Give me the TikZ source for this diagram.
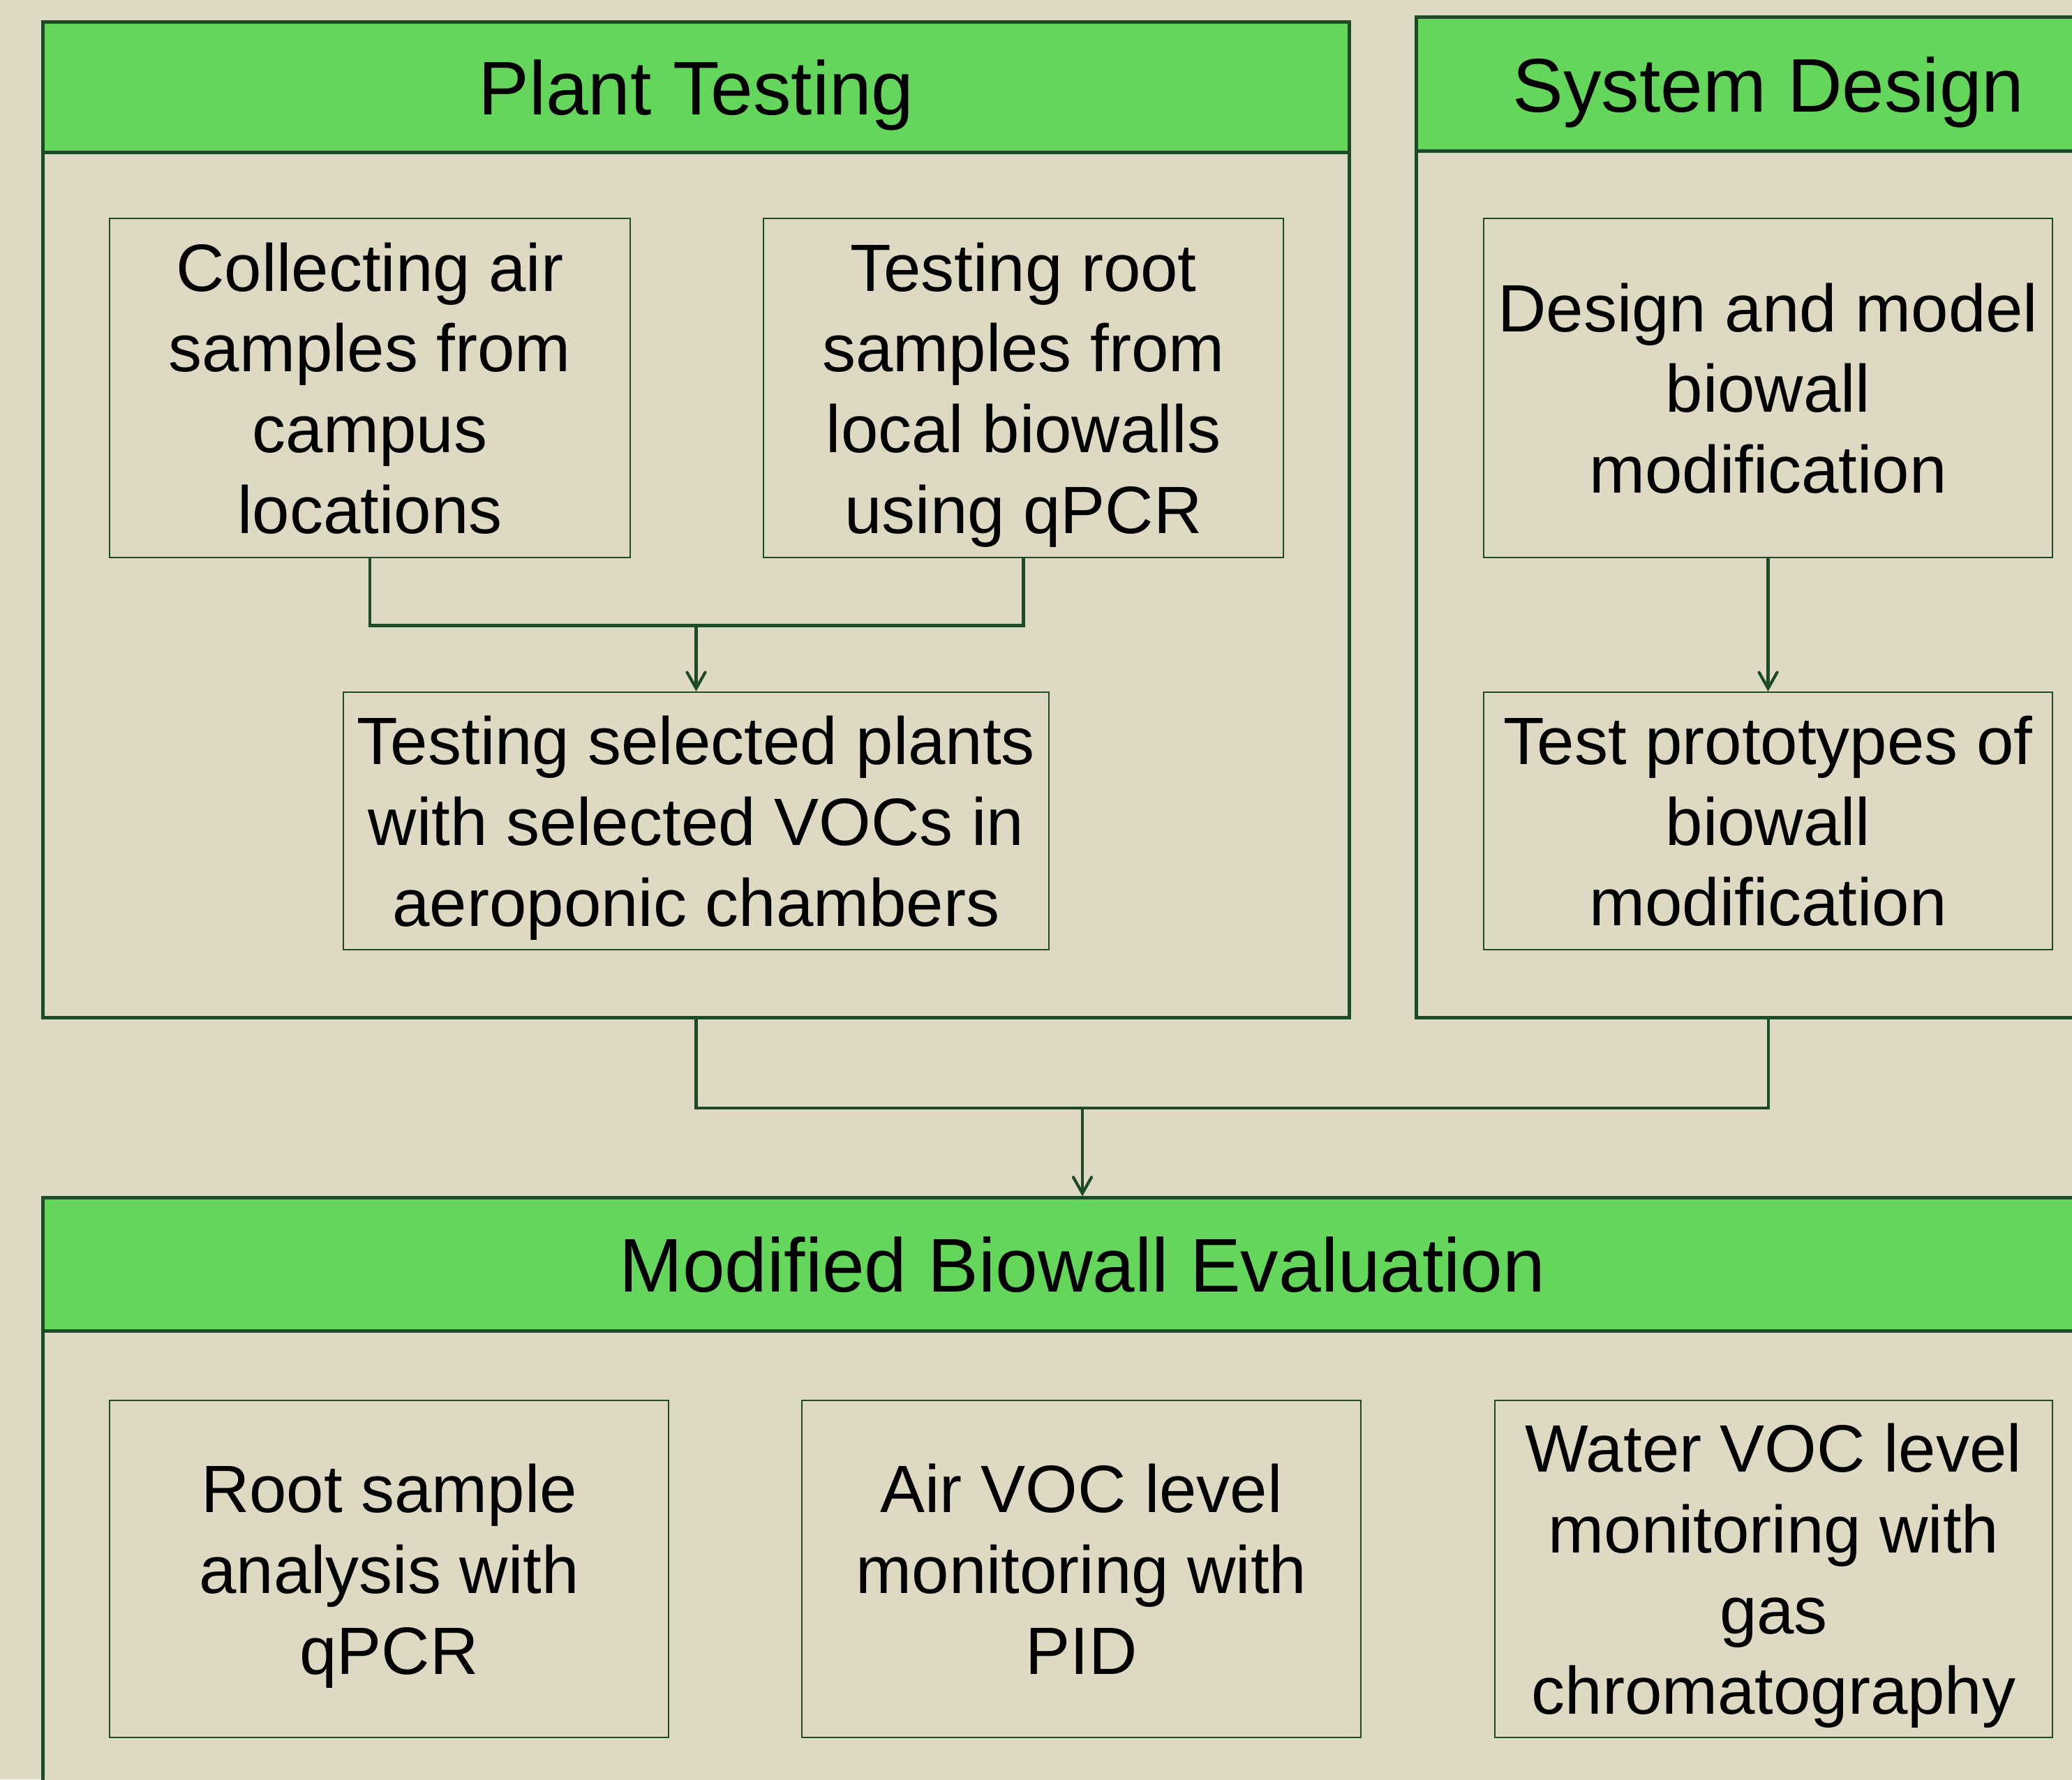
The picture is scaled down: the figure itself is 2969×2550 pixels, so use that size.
\documentclass[tikz,border=0pt]{standalone}
\usepackage{fontspec}
\setmainfont{Liberation Sans}
\usepackage{tikz}
\usetikzlibrary{arrows.meta}

\definecolor{paper}{HTML}{DDD9C3}
\definecolor{leaf}{HTML}{65D65C}
\definecolor{moss}{HTML}{1F4A27}

\tikzset{
	panel/.style={draw=moss, line width=1.4pt, fill=paper, inner sep=0pt},
	head/.style={draw=moss, line width=1.4pt, fill=leaf, inner sep=0pt, text depth=0pt,
		font=\fontsize{31}{37}\selectfont},
	cell/.style={draw=moss, line width=0.6pt, inner sep=0pt, align=center, text depth=0pt,
		font=\fontsize{27.3}{32.9}\selectfont},
	link/.style={draw=moss, line width=1.3pt},
	feed/.style={draw=moss, line width=1.2pt, -{Straight Barb[length=2.3mm,width=2.6mm,line cap=round]}}
}

\begin{document}
\begin{tikzpicture}[x=0.01cm, y=-0.01cm]

	\useasboundingbox (0,0) rectangle (2969,2550);
	\clip (0,0) rectangle (2969,2550);
	\fill[paper] (0,0) rectangle (2969,2550);

	% plant testing
	\node[panel, minimum width=18.71cm, minimum height=14.26cm] (pt) at (997.5,745) {};
	\node[head, minimum width=18.71cm, minimum height=1.86cm] (pth) at (997.5,125) {Plant Testing};
	\node[cell, minimum width=7.46cm, minimum height=4.85cm] (air) at (530,556)
		{Collecting air\\samples from\\campus\\locations};
	\node[cell, minimum width=7.45cm, minimum height=4.85cm] (root) at (1466.5,556)
		{Testing root\\samples from\\local biowalls\\using qPCR};
	\node[cell, minimum width=10.11cm, minimum height=3.69cm] (voc) at (997.5,1176.5)
		{Testing selected plants\\with selected VOCs in\\aeroponic chambers};

	% system design
	\node[panel, minimum width=10.08cm, minimum height=14.33cm] (sd) at (2534,741.5) {};
	\node[head, minimum width=10.08cm, minimum height=1.91cm] (sdh) at (2534,120.5) {System Design};
	\node[cell, minimum width=8.15cm, minimum height=4.85cm] (model) at (2533.5,556)
		{Design and model\\biowall\\modification};
	\node[cell, minimum width=8.15cm, minimum height=3.69cm] (proto) at (2533.5,1176.5)
		{Test prototypes of\\biowall\\modification};

	% evaluation
	\node[panel, minimum width=29.78cm, minimum height=9.83cm] (ev) at (1551,2208.5) {};
	\node[head, minimum width=29.78cm, minimum height=1.90cm] (evh) at (1551,1812) {Modified Biowall Evaluation};
	\node[cell, minimum width=8.01cm, minimum height=4.83cm] (qpcr) at (557.5,2248.5)
		{Root sample\\analysis with\\qPCR};
	\node[cell, minimum width=8.01cm, minimum height=4.83cm] (pid) at (1549.5,2248.5)
		{Air VOC level\\monitoring with\\PID};
	\node[cell, minimum width=7.99cm, minimum height=4.83cm] (gc) at (2541.5,2248.5)
		{Water VOC level\\monitoring with\\gas\\chromatography};

	% connectors
	\draw[link] (air.south) -- ++(0,97) coordinate (j1) -| (root.south);
	\draw[feed] (j1 -| voc.north) -- (voc.north);
	\draw[feed] (model.south) -- (proto.north);
	\draw[link] (pt.south) -- ++(0,127) coordinate (j2) -| (sd.south);
	\draw[feed] (j2 -| evh.north) -- (evh.north);

\end{tikzpicture}
\end{document}
